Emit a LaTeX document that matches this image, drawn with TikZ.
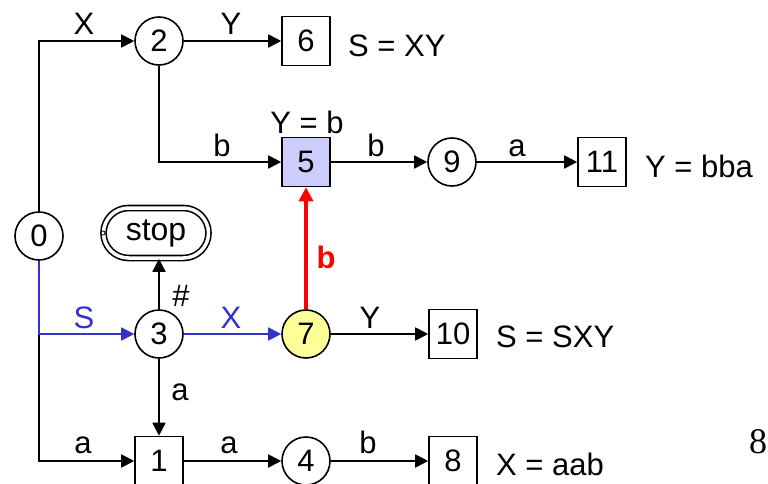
\documentclass[tikz,border=0pt]{standalone}
\usepackage{fontspec}
\setmainfont{Liberation Sans}
\newfontfamily\serifnum{Liberation Serif}
\usetikzlibrary{arrows.meta,shapes.misc}
\definecolor{eblue}{HTML}{3333CC}
\definecolor{nyellow}{HTML}{FFFF99}
\definecolor{nlav}{HTML}{CCCCFF}
\tikzset{
  every picture/.style={x=1pt,y=-1pt},
  st/.style={circle,draw,line width=1.6pt,minimum size=48pt,inner sep=0pt,font=\fontsize{31}{36}\selectfont},
  bx/.style={rectangle,draw,line width=1.6pt,minimum width=48pt,minimum height=49pt,inner sep=0pt,font=\fontsize{31}{36}\selectfont},
  ed/.style={line width=1.8pt,-{Triangle[length=13pt,width=13pt]}},
  lab/.style={anchor=base,inner sep=0pt,font=\fontsize{31}{36}\selectfont},
  ann/.style={anchor=base west,inner sep=0pt,font=\fontsize{31}{36}\selectfont},
}
\begin{document}
\begin{tikzpicture}
\useasboundingbox (0,0) rectangle (768,484);
% nodes
\node[st] (n0) at (39,236) {0};
\node[st] (n2) at (159,41) {2};
\node[bx] (n6) at (306,41) {6};
\node[bx,fill=nlav] (n5) at (306,162) {5};
\node[st] (n9) at (452,162) {9};
\node[bx] (n11) at (602,162) {11};
\node[rounded rectangle,draw,double,line width=1.6pt,double distance=3.5pt,minimum width=105pt,minimum height=50pt,inner sep=0pt,font=\fontsize{32}{36}\selectfont] (stop) at (156,233) {stop};
\node[circle,draw,fill=white,line width=0.8pt,minimum size=4pt,inner sep=0pt] (dot) at (103,233) {};
\node[st] (n3) at (159,334) {3};
\node[st,fill=nyellow] (n7) at (306,334) {7};
\node[bx] (n10) at (453,334) {10};
\node[bx] (n1) at (159,461) {1};
\node[st] (n4) at (306,461) {4};
\node[bx] (n8) at (453,461) {8};
% edges
\draw[ed] (n0.north) |- (n2.west);
\draw[ed] (n2) -- (n6);
\draw[ed] (n2.south) |- (n5.west);
\draw[ed] (n5) -- (n9);
\draw[ed] (n9) -- (n11);
\draw[ed] (n0.south) |- (n1.west);
\draw[ed,eblue] (n0.south) |- (n3.west);
\draw[ed,eblue] (n3) -- (n7);
\draw[ed] (n3.north) -- (n3.north |- stop.south);
\draw[ed] (n3.south) -- (n1.north);
\draw[line width=3.5pt,red,-{Triangle[length=14pt,width=14pt]}] (n7.north) -- (n5.south);
\draw[ed] (n7) -- (n10);
\draw[ed] (n1) -- (n4);
\draw[ed] (n4) -- (n8);
% edge labels
\node[lab] (l02) at (84,35) {X};
\node[lab] (l26) at (231,35) {Y};
\node[lab] (l25) at (222,157) {b};
\node[lab] (l5t) at (307,133) {Y = b};
\node[lab] (l59) at (376,157) {b};
\node[lab] (l911) at (517,157) {a};
\node[lab,eblue] (l03) at (84,328) {S};
\node[lab,eblue] (l37) at (231,328) {X};
\node[lab] (l710) at (370,328) {Y};
\node[lab] (l3s) at (181,306) {\#};
\node[lab,red,font=\fontsize{31}{36}\selectfont\bfseries] (l75) at (326,268) {b};
\node[lab] (l31) at (180,400) {a};
\node[lab] (l01) at (83,453) {a};
\node[lab] (l14) at (229,453) {a};
\node[lab] (l48) at (368,453) {b};
% annotations
\node[ann] (a6) at (348,57) {S = XY};
\node[ann] (a11) at (645,177) {Y = bba};
\node[ann] (a10) at (496,347) {S = SXY};
\node[ann] (a8) at (496,475) {X = aab};
\node[anchor=base west,inner sep=0pt,font=\serifnum\fontsize{36}{40}\selectfont] (pg) at (749,453) {8};
\end{tikzpicture}
\end{document}
